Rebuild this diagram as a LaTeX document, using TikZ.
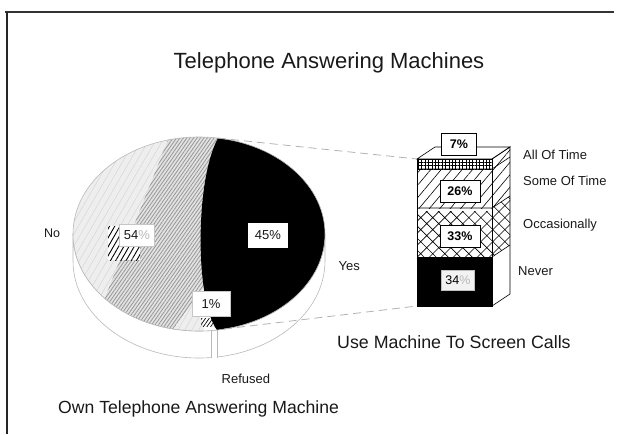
\documentclass[tikz,border=0pt]{standalone}
\usepackage{fontspec}
\setmainfont{Liberation Sans}
\usetikzlibrary{patterns.meta}

\begin{document}
\begin{tikzpicture}[x=1pt,y=-1pt,
  txt/.style={anchor=base west, text=black!90, inner sep=0pt, font=\fontsize{13}{15}\selectfont},
  pielabel/.style={fill=white, draw=gray!45, line width=0.4pt, inner sep=0pt,
    font=\fontsize{13}{15}\selectfont, text=black!90},
  barlabel/.style={fill=white, draw=black, line width=0.5pt, inner sep=0pt,
    minimum width=40pt, minimum height=22pt, font=\bfseries\fontsize{12.5}{14}\selectfont},
  edge/.style={draw=black, line width=0.6pt},
  link/.style={draw=gray!60, line width=0.8pt, dash pattern=on 8pt off 5pt},
  rim/.style={draw=gray!55, line width=0.6pt}]

\useasboundingbox (0,0) rectangle (626,434);

% frame
\draw[line width=1.2pt, black!80] (5,12) -- (614,12);
\draw[line width=1.6pt, black!85] (7,12) -- (7,434);

% title
\node[anchor=base, inner sep=0pt, text=black!90, font=\fontsize{22}{26}\selectfont]
  (title) at (329,68) {Telephone Answering Machines};

% ---------- pie ----------
% side band
\path[fill=white, rim] (73,234) -- (73,261)
  arc[start angle=180, end angle=360, x radius=126pt, y radius=97pt]
  -- (325,234)
  arc[start angle=0, end angle=-180, x radius=126pt, y radius=97pt] -- cycle;

% "No" slice: light base
\fill[gray!13] (199,234) ellipse[x radius=126pt, y radius=97pt];
\begin{scope}
  \clip (199,234) ellipse[x radius=126pt, y radius=97pt];
  \fill[pattern={Lines[angle=60,distance=6pt,line width=0.3pt]}, pattern color=gray!40]
    (60,130) rectangle (230,340);
  % dense hatched band
  \fill[gray!22] (172,130) -- (226,130) -- (206,284) -- (165,340) -- (100,320) -- (104,300) -- cycle;
  \fill[pattern={Lines[angle=55,distance=2.8pt,line width=0.85pt]}, pattern color=gray!80]
    (172,130) -- (226,130) -- (206,284) -- (165,340) -- (100,320) -- (104,300) -- cycle;
  % refused sliver
  \fill[white] (200,316) -- (218,316) -- (218,335) -- (206,335) -- cycle;
  \fill[pattern={Lines[angle=55,distance=3pt,line width=0.7pt]}, pattern color=black]
    (201,318) rectangle (214,326);
\end{scope}

% dark patch behind the 54% label
\fill[white] (108,226) rectangle (140,260);
\fill[pattern={Lines[angle=60,distance=4.5pt,line width=0.9pt]}, pattern color=black]
  (108,226) rectangle (140,260);

% "Yes" slice
\coordinate (ytop) at (218,138.1);
\coordinate (ybot) at (224,329);
\fill[black] (ytop)
  arc[start angle=81.3, end angle=-81.8, x radius=126pt, y radius=97pt]
  .. controls (195,300) and (195,180) .. (ytop) -- cycle;

% top face rim
\draw[rim] (199,234) ellipse[x radius=126pt, y radius=97pt];

% side of the refused slice
\fill[white] (211,331) rectangle (217,357.6);
\draw[rim] (211,331) -- (211,357.6) (217,330) -- (217,357.8);

% pie labels
\node[pielabel, minimum width=35pt, minimum height=22pt] (no54) at (137,235)
  {54\textcolor{gray!55}{\%}};
\node[pielabel, draw=none, minimum width=40pt, minimum height=25pt] (yes45) at (268,235) {45\%};
\node[pielabel, minimum width=38pt, minimum height=25pt] (ref1) at (211,304) {1\%};

\node[txt, font=\fontsize{12.5}{15}\selectfont] (no) at (44,237) {No};
\node[txt] (yes) at (338.5,270) {Yes};
\node[txt] (refused) at (221.5,383) {Refused};
\node[txt, font=\fontsize{17.6}{21}\selectfont] (owncap) at (58,413) {Own Telephone Answering Machine};

% ---------- stacked bar ----------
\coordinate (bartl) at (417,159);
\coordinate (barbl) at (417,306);

% front face segments
\fill[white] (417,159) rectangle (492,257);
\fill[pattern={Hatch[angle=0,distance=3.4pt,line width=0.45pt]}, pattern color=black]
  (417,159) rectangle (492,169);
\fill[pattern={Lines[angle=50,distance=8pt,line width=0.6pt]}, pattern color=black]
  (417,169) rectangle (492,208);
\fill[pattern={Hatch[angle=45,distance=8.5pt,line width=0.6pt]}, pattern color=black]
  (417,211) rectangle (492,257);
\fill[black] (417,257) rectangle (492,306);

% side face segments
\fill[white] (492,159) -- (510,147) -- (510,294) -- (492,306) -- cycle;
\fill[pattern={Lines[angle=50,distance=8pt,line width=0.6pt]}, pattern color=black]
  (492,159) -- (510,147) -- (510,196) -- (492,208) -- cycle;
\fill[pattern={Hatch[angle=45,distance=8.5pt,line width=0.6pt]}, pattern color=black]
  (492,208) -- (510,196) -- (510,245) -- (492,257) -- cycle;

% top face
\path[fill=white, edge] (417,159) -- (435,147) -- (510,147) -- (492,159) -- cycle;

% outlines and dividers
\draw[edge] (417,159) rectangle (492,306);
\draw[edge] (492,159) -- (510,147) -- (510,294) -- (492,306);
\draw[edge] (417,169) -- (492,169) -- (510,157);
\draw[edge] (417,208) -- (492,208) -- (510,196);
\draw[edge] (492,257) -- (510,245);

% bar labels
\node[barlabel, minimum width=35pt] (p7) at (459,144) {7\%};
\node[barlabel] (p26) at (460,191) {26\%};
\node[barlabel] (p33) at (460,236) {33\%};
\node[barlabel, fill=gray!10, draw=gray!50, minimum width=33pt, minimum height=20pt,
  font=\fontsize{12.5}{14}\selectfont] (p34) at (458,280) {34\textcolor{gray!55}{\%}};

\node[txt] (all) at (523,159) {All Of Time};
\node[txt] (some) at (523,185) {Some Of Time};
\node[txt] (occ) at (523,228) {Occasionally};
\node[txt] (never) at (518,275) {Never};
\node[txt, font=\fontsize{17.8}{21}\selectfont] (usecap) at (337,348) {Use Machine To Screen Calls};

% links from the Yes slice to the bar
\draw[link] (ytop) -- (bartl);
\draw[link] (ybot) -- (barbl);

\end{tikzpicture}
\end{document}
